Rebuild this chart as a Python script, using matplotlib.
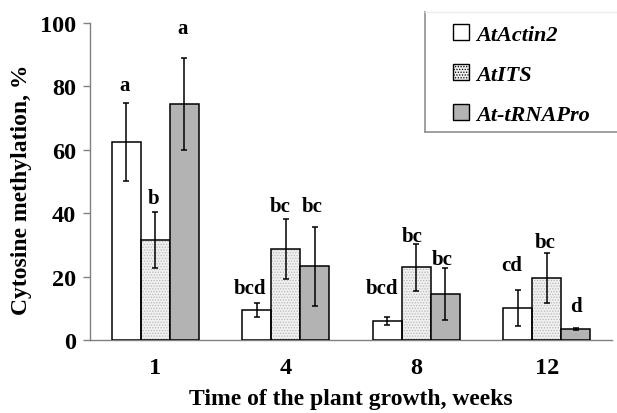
import matplotlib
matplotlib.use("Agg")
import matplotlib.pyplot as plt
import numpy as np
from matplotlib.patches import Patch
from matplotlib.lines import Line2D

weeks = ["1", "4", "8", "12"]
series_names = ["AtActin2", "AtITS", "At-tRNAPro"]
actin = [62.5, 9.4, 5.9, 10.1]
actin_err = [12.4, 2.3, 1.2, 5.7]
its = [31.6, 28.8, 22.9, 19.5]
its_err = [8.8, 9.5, 7.3, 7.9]
trna = [74.5, 23.3, 14.5, 3.5]
trna_err = [14.5, 12.5, 8.2, 0.4]
letters_actin = ["a", "bcd", "bcd", "cd"]
letters_its = ["b", "bc", "bc", "bc"]
letters_trna = ["a", "bc", "bc", "d"]

# layout nudges for the significance letters (pixels: dx, dy up)
nudge_actin = [(-2, 0), (-7, -3), (-5, 11), (-6, 7)]
nudge_its = [(-2, -4), (-6, -5), (-4, -10), (-2, -7)]
nudge_trna = [(-2, 12), (-3, 3), (-3, -9), (0, 4)]

plt.rcParams['font.family'] = ['Liberation Serif', 'DejaVu Serif']
plt.rcParams['hatch.linewidth'] = 0.6

W, H = 617, 414
fig = plt.figure(figsize=(W / 100, H / 100), dpi=100)
ax = fig.add_axes([90 / W, 1 - 341 / H, 522 / W, 317 / H])

x = np.arange(len(weeks))
w = 0.222
vals = [actin, its, trna]
errs = [actin_err, its_err, trna_err]
letters = [letters_actin, letters_its, letters_trna]
nudges = [nudge_actin, nudge_its, nudge_trna]
faces = ['white', '#f0f0f0', '#b3b3b3']
hatches = [None, '......', None]
offsets = [-w, 0, w]
px2pt = 0.72

for i in range(3):
    pos = x + offsets[i]
    if hatches[i]:
        ax.bar(pos, vals[i], w, color=faces[i], edgecolor='#b8b8b8', hatch=hatches[i], linewidth=0, zorder=2)
        ax.bar(pos, vals[i], w, facecolor='none', edgecolor='black', linewidth=1.1, zorder=3)
    else:
        ax.bar(pos, vals[i], w, color=faces[i], edgecolor='black', linewidth=1.1, zorder=3)
    ax.errorbar(pos, vals[i], yerr=errs[i], fmt='none', ecolor='black', elinewidth=1.1,
                capsize=2.5, capthick=1.1, zorder=4)
    for p, v, e, t, (dx, dy) in zip(pos, vals[i], errs[i], letters[i], nudges[i]):
        ax.annotate(t, xy=(p, v + e), xytext=(dx * px2pt, (8 + dy) * px2pt),
                    textcoords='offset points', ha='center', va='bottom',
                    fontsize=15, fontweight='bold')

ax.set_xlim(-0.5, 3.5)
ax.set_ylim(0, 100)
ax.set_yticks([0, 20, 40, 60, 80, 100])
ax.set_xticks(x)
ax.set_xticklabels(weeks)
for lab in ax.get_xticklabels() + ax.get_yticklabels():
    lab.set_fontweight('bold')
    lab.set_fontsize(17.5)
ax.tick_params(axis='x', length=0, pad=12)
ax.tick_params(axis='y', length=5, width=1, color='#808080', pad=5)
for s in ['top', 'right']:
    ax.spines[s].set_visible(False)
for s in ['left', 'bottom']:
    ax.spines[s].set_color('#808080')
    ax.spines[s].set_linewidth(1.0)

fig.text(22 / W, 1 - 190 / H, 'Cytosine methylation, %', rotation=90, ha='center', va='center',
         fontsize=17, fontweight='bold')
fig.text(351 / W, 9 / H, 'Time of the plant growth, weeks', ha='center', va='baseline',
         fontsize=17, fontweight='bold')

# legend frame (extends past the right edge)
fig.add_artist(Line2D([425 / W, 425 / W], [1 - 13 / H, 1 - 133 / H], transform=fig.transFigure,
                      color='#909090', lw=1.2))
fig.add_artist(Line2D([425 / W, 1.0], [1 - 133 / H, 1 - 133 / H], transform=fig.transFigure,
                      color='#909090', lw=1.2))
fig.add_artist(Line2D([425 / W, 1.0], [1 - 13 / H, 1 - 13 / H], transform=fig.transFigure,
                      color='#ececec', lw=1.0))

handles = [Patch(facecolor='white', edgecolor='black', linewidth=1.0),
           Patch(facecolor='#f0f0f0', edgecolor='black', hatch='......', linewidth=1.0),
           Patch(facecolor='#b3b3b3', edgecolor='black', linewidth=1.0)]
leg = fig.legend(handles, series_names, loc='upper left', bbox_to_anchor=(453 / W, 1 - 25 / H),
                 bbox_transform=fig.transFigure, frameon=False,
                 prop={'style': 'italic', 'weight': 'bold', 'size': 16},
                 handlelength=0.72, handleheight=0.72, handletextpad=0.3,
                 labelspacing=0.88, borderpad=0, borderaxespad=0)

fig.savefig('out.png', dpi=100)
